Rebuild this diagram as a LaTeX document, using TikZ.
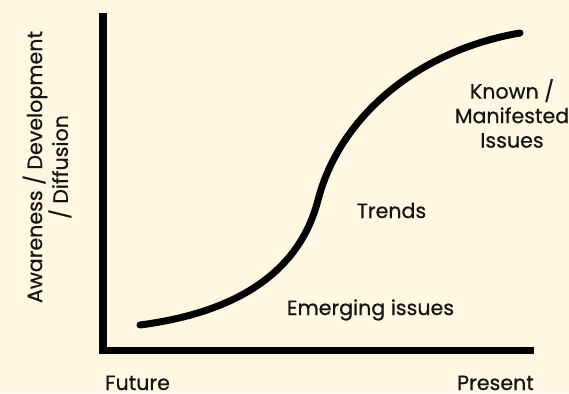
\documentclass[tikz,border=0pt]{standalone}
\usepackage{fontspec}
\setmainfont{Poppins}[FakeBold=0.6]
\usetikzlibrary{positioning}
\definecolor{paper}{HTML}{FFF7E1}
\definecolor{ink}{HTML}{141414}

\begin{document}
\begin{tikzpicture}[x=1pt,y=-1pt,
    lbl/.style={inner sep=0pt, text=ink, font=\fontsize{20.6}{24.5}\selectfont},
    axis/.style={line width=7.5pt, line join=miter},
    scurve/.style={line width=7pt, line cap=round}]
      \fill[paper] (0,0) rectangle (569,393);
      \useasboundingbox (0,0) rectangle (569,393);
      % axes
      \coordinate (top) at (103,13);
      \coordinate (origin) at (103,350.5);
      \coordinate (right) at (534,350.5);
      \draw[axis] (top) -- (origin) -- (right);
      % s-curve
      \coordinate (start) at (140,325);
      \coordinate (turn) at (318,200);
      \coordinate (end) at (520,33);
      \draw[scurve] (start) .. controls (240,312) and (300,270) .. (turn)
                            .. controls (340,115) and (420,50) .. (end);
      % labels
      \node[lbl, rotate=90, align=center] (ylabel) at (47,167) {Awareness / Development\\/ Diffusion};
      \node[lbl, anchor=base west] (future) at (105,390) {Future};
      \node[lbl, anchor=base east] (present) at (534,390) {Present};
      \node[lbl, anchor=base] (emerging) at (370.5,315) {Emerging issues};
      \node[lbl, anchor=base] (trends) at (391.5,218) {Trends};
      \node[lbl, anchor=north, align=center] (known) at (512,79) {Known /\\Manifested\\Issues};
    \end{tikzpicture}
\end{document}
